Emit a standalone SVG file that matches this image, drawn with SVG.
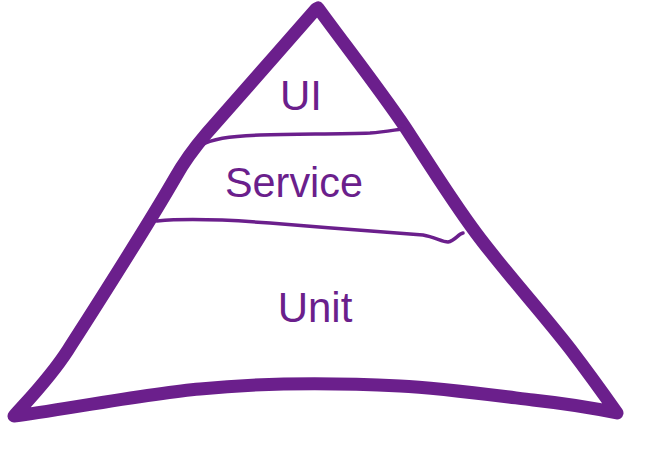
<svg xmlns="http://www.w3.org/2000/svg" width="650" height="449" viewBox="0 0 650 449">
  <style>
    .outline { fill: none; stroke: #6b1f8c; stroke-width: 13; stroke-linejoin: round; stroke-linecap: round; }
    .divider { fill: none; stroke: #6b1f8c; stroke-width: 3.5; stroke-linecap: round; stroke-linejoin: round; }
    .label { font-family: "Liberation Sans", "DejaVu Sans", sans-serif; font-size: 42px; fill: #6b1f8c; text-anchor: middle; }
  </style>
  <rect width="650" height="449" fill="#ffffff"/>
  <g id="pyramid-outline">
    <path class="outline" d="M 316 9 C 280 50, 240 96, 207 133 C 195 147, 185 160, 175 178 C 145 230, 100 300, 68 350 C 50 378, 30 398, 14 416 C 50 412, 150 393, 200 389 C 250 384, 320 382, 400 386 C 440 388, 500 396, 533 400 C 570 404, 598 409, 617 413 C 605 396, 590 375, 571 350 C 540 310, 505 272, 476 233 C 450 198, 428 162, 405 127 C 380 90, 345 45, 318 8 Z"/>
  </g>
  <g id="connectors">
    <path class="divider" d="M 199 146 C 212 139, 228 136, 260 135 C 300 134, 340 134, 370 133 C 385 132, 394 130, 402 129"/>
    <path class="divider" d="M 157 221 C 190 218, 230 220, 270 223 C 320 227, 380 232, 423 235 C 435 237, 442 242, 448 242 C 455 241, 458 234, 463 233"/>
  </g>
  <g id="layer-ui">
    <text class="label" x="301" y="110">UI</text>
  </g>
  <g id="layer-service">
    <text class="label" x="294" y="197" textLength="138" lengthAdjust="spacingAndGlyphs">Service</text>
  </g>
  <g id="layer-unit">
    <text class="label" x="315" y="322">Unit</text>
  </g>
</svg>
